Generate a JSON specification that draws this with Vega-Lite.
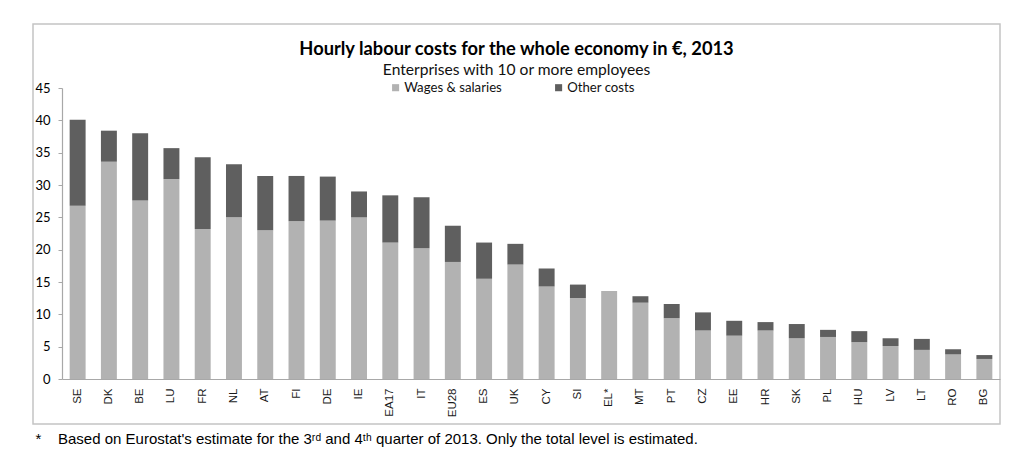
{
  "$schema": "https://vega.github.io/schema/vega-lite/v6.json",
  "width": 967,
  "height": 400,
  "autosize": {"type": "none"},
  "padding": {"left": 33, "top": 24, "right": 24, "bottom": 46},
  "background": "white",
  "title": {
    "text": "Hourly labour costs for the whole economy in €, 2013",
    "subtitle": "Enterprises with 10 or more employees",
    "anchor": "middle",
    "frame": "group",
    "offset": -56,
    "font": "Lato",
    "fontSize": 18.3,
    "fontWeight": "bold",
    "color": "#000000",
    "subtitleFont": "Lato",
    "subtitleFontSize": 15.6,
    "subtitleColor": "#111111",
    "subtitlePadding": 4
  },
  "data": {
    "values": [
      {"country": "SE", "component": "Wages & salaries", "value": 26.8},
      {"country": "SE", "component": "Other costs", "value": 13.3},
      {"country": "DK", "component": "Wages & salaries", "value": 33.6},
      {"country": "DK", "component": "Other costs", "value": 4.8},
      {"country": "BE", "component": "Wages & salaries", "value": 27.6},
      {"country": "BE", "component": "Other costs", "value": 10.4},
      {"country": "LU", "component": "Wages & salaries", "value": 30.9},
      {"country": "LU", "component": "Other costs", "value": 4.8},
      {"country": "FR", "component": "Wages & salaries", "value": 23.2},
      {"country": "FR", "component": "Other costs", "value": 11.1},
      {"country": "NL", "component": "Wages & salaries", "value": 25.0},
      {"country": "NL", "component": "Other costs", "value": 8.2},
      {"country": "AT", "component": "Wages & salaries", "value": 23.0},
      {"country": "AT", "component": "Other costs", "value": 8.4},
      {"country": "FI", "component": "Wages & salaries", "value": 24.4},
      {"country": "FI", "component": "Other costs", "value": 7.0},
      {"country": "DE", "component": "Wages & salaries", "value": 24.5},
      {"country": "DE", "component": "Other costs", "value": 6.8},
      {"country": "IE", "component": "Wages & salaries", "value": 25.0},
      {"country": "IE", "component": "Other costs", "value": 4.0},
      {"country": "EA17", "component": "Wages & salaries", "value": 21.1},
      {"country": "EA17", "component": "Other costs", "value": 7.3},
      {"country": "IT", "component": "Wages & salaries", "value": 20.2},
      {"country": "IT", "component": "Other costs", "value": 7.9},
      {"country": "EU28", "component": "Wages & salaries", "value": 18.1},
      {"country": "EU28", "component": "Other costs", "value": 5.6},
      {"country": "ES", "component": "Wages & salaries", "value": 15.5},
      {"country": "ES", "component": "Other costs", "value": 5.6},
      {"country": "UK", "component": "Wages & salaries", "value": 17.7},
      {"country": "UK", "component": "Other costs", "value": 3.2},
      {"country": "CY", "component": "Wages & salaries", "value": 14.3},
      {"country": "CY", "component": "Other costs", "value": 2.8},
      {"country": "SI", "component": "Wages & salaries", "value": 12.5},
      {"country": "SI", "component": "Other costs", "value": 2.1},
      {"country": "EL*", "component": "Wages & salaries", "value": 13.6},
      {"country": "MT", "component": "Wages & salaries", "value": 11.8},
      {"country": "MT", "component": "Other costs", "value": 1.0},
      {"country": "PT", "component": "Wages & salaries", "value": 9.4},
      {"country": "PT", "component": "Other costs", "value": 2.2},
      {"country": "CZ", "component": "Wages & salaries", "value": 7.5},
      {"country": "CZ", "component": "Other costs", "value": 2.8},
      {"country": "EE", "component": "Wages & salaries", "value": 6.7},
      {"country": "EE", "component": "Other costs", "value": 2.3},
      {"country": "HR", "component": "Wages & salaries", "value": 7.5},
      {"country": "HR", "component": "Other costs", "value": 1.3},
      {"country": "SK", "component": "Wages & salaries", "value": 6.3},
      {"country": "SK", "component": "Other costs", "value": 2.2},
      {"country": "PL", "component": "Wages & salaries", "value": 6.5},
      {"country": "PL", "component": "Other costs", "value": 1.1},
      {"country": "HU", "component": "Wages & salaries", "value": 5.7},
      {"country": "HU", "component": "Other costs", "value": 1.7},
      {"country": "LV", "component": "Wages & salaries", "value": 5.1},
      {"country": "LV", "component": "Other costs", "value": 1.2},
      {"country": "LT", "component": "Wages & salaries", "value": 4.5},
      {"country": "LT", "component": "Other costs", "value": 1.7},
      {"country": "RO", "component": "Wages & salaries", "value": 3.8},
      {"country": "RO", "component": "Other costs", "value": 0.8},
      {"country": "BG", "component": "Wages & salaries", "value": 3.1},
      {"country": "BG", "component": "Other costs", "value": 0.6}
    ]
  },
  "mark": {"type": "bar"},
  "encoding": {
    "x": {
      "field": "country",
      "type": "nominal",
      "sort": null,
      "scale": {"range": [29, 967], "paddingInner": 0.49, "paddingOuter": 0.245},
      "axis": {
        "orient": "bottom",
        "offset": -45,
        "labelAngle": 270,
        "labelFont": "Liberation Sans",
        "labelFontSize": 11.5,
        "labelColor": "#1a1a1a",
        "labelPadding": 9,
        "ticks": false,
        "domainColor": "#a8a8a8",
        "domainWidth": 1.2,
        "title": "*\u00a0\u00a0\u00a0\u00a0Based on Eurostat's estimate for the 3ʳᵈ and 4ᵗʰ quarter of 2013. Only the total level is estimated.",
        "titleFont": "Liberation Sans",
        "titleFontSize": 15,
        "titleFontWeight": "normal",
        "titleColor": "#000000",
        "titleAnchor": "start",
        "titleAlign": "left",
        "titleBaseline": "middle",
        "titleX": 2,
        "titleY": 59
      }
    },
    "y": {
      "aggregate": "sum",
      "field": "value",
      "type": "quantitative",
      "stack": "zero",
      "scale": {"domain": [0, 45], "range": [355, 64], "nice": false},
      "axis": {
        "orient": "left",
        "offset": -29,
        "values": [0, 5, 10, 15, 20, 25, 30, 35, 40, 45],
        "grid": false,
        "title": null,
        "labelFont": "Lato",
        "labelFontSize": 13,
        "labelColor": "#000000",
        "labelPadding": 8,
        "tickSize": 4,
        "tickColor": "#a8a8a8",
        "domainColor": "#a8a8a8",
        "domainWidth": 1.2
      }
    },
    "color": {
      "field": "component",
      "type": "nominal",
      "scale": {"domain": ["Wages & salaries", "Other costs"], "range": ["#b2b2b2", "#5f5f5f"]},
      "legend": {
        "orient": "none",
        "legendX": 356,
        "legendY": 57,
        "direction": "horizontal",
        "title": null,
        "symbolType": "square",
        "symbolSize": 50,
        "symbolStrokeWidth": 0,
        "labelFont": "Lato",
        "labelFontSize": 13.2,
        "labelColor": "#111111",
        "labelOffset": 2,
        "columnPadding": 50
      }
    },
    "order": {"field": "component", "sort": "descending"}
  },
  "config": {
    "view": {"stroke": "#c4c4c4", "strokeWidth": 1.5}
  }
}
